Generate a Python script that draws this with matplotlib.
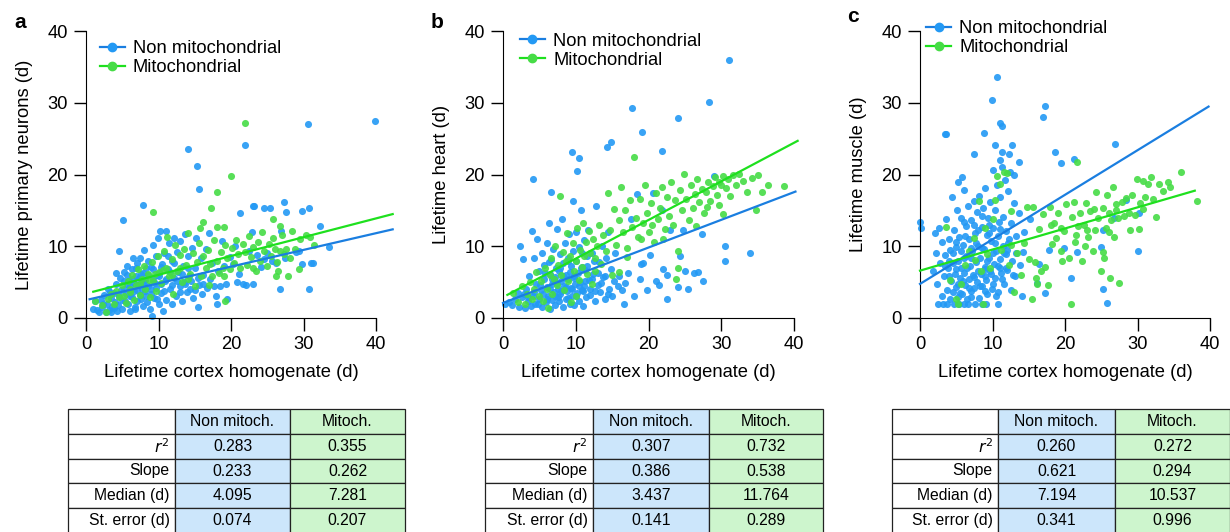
import numpy as np
import matplotlib
matplotlib.use("Agg")
from matplotlib import pyplot as plt
from matplotlib.lines import Line2D

plt.rcParams['font.family'] = ['Liberation Sans', 'DejaVu Sans']

# ---- scatter data (x = lifetime cortex homogenate, y = lifetime in tissue)
a_non = np.array([
    (1.0, 1.2), (1.5, 1.1), (1.8, 0.8), (2.0, 2.5), (2.2, 1.5), (2.5, 3.2), (2.7, 0.9), (2.9, 2.0), (1.2, 2.4),
    (3.0, 4.1), (3.2, 1.1), (3.4, 2.8), (3.6, 1.6), (3.8, 3.5), (4.0, 2.2), (4.1, 4.8), (4.3, 1.0), (4.5, 3.0),
    (4.6, 9.4), (4.7, 5.6), (4.9, 2.5), (5.0, 1.3), (5.2, 4.0), (5.3, 6.4), (3.5, 0.9), (4.4, 1.8), (5.5, 3.3),
    (5.6, 7.3), (5.8, 2.0), (5.9, 5.1), (6.0, 1.0), (6.1, 4.4), (6.3, 6.8), (6.4, 2.9), (6.5, 8.4), (6.6, 3.7),
    (6.8, 1.6), (6.9, 5.9), (7.0, 7.6), (7.1, 2.4), (7.2, 4.6), (5.7, 6.0), (6.2, 3.9), (6.7, 1.2), (7.4, 8.3),
    (7.5, 3.2), (7.6, 6.2), (7.8, 1.7), (7.9, 5.0), (8.0, 9.5), (8.1, 3.8), (8.3, 6.9), (8.4, 2.2), (8.5, 8.0),
    (8.6, 4.5), (8.8, 1.3), (8.9, 7.1), (9.0, 3.4), (9.1, 0.3), (9.2, 5.6), (9.3, 10.2), (9.4, 2.8), (7.7, 4.1),
    (8.2, 5.3), (9.6, 8.6), (9.7, 4.2), (9.9, 11.1), (10.0, 1.9), (10.1, 6.3), (10.2, 12.1), (10.4, 3.5),
    (10.5, 7.5), (10.6, 1.0), (10.8, 9.0), (10.9, 5.2), (11.0, 12.1), (11.1, 2.5), (11.3, 6.8), (11.4, 10.5),
    (9.8, 6.0), (10.3, 4.8), (11.6, 4.0), (11.8, 8.0), (11.9, 2.0), (12.1, 11.2), (12.2, 5.6), (12.4, 3.0),
    (12.5, 9.2), (12.7, 6.4), (12.9, 4.4), (13.0, 10.8), (13.2, 2.4), (13.4, 7.3), (13.5, 5.0), (13.7, 11.7),
    (13.9, 3.6), (14.0, 8.6), (14.2, 5.8), (14.4, 4.0), (14.6, 9.8), (14.8, 2.8), (15.0, 6.9), (15.2, 11.2),
    (15.4, 1.5), (15.6, 4.6), (15.8, 8.3), (16.0, 3.3), (16.2, 6.0), (16.5, 9.6), (16.7, 4.2), (16.9, 11.9),
    (17.1, 5.4), (17.4, 7.6), (17.7, 4.5), (18.0, 2.0), (18.2, 6.5), (18.5, 4.4), (18.8, 10.7), (19.1, 7.2),
    (19.3, 4.7), (19.5, 2.6), (19.8, 8.5), (17.9, 3.0), (20.3, 7.5), (20.8, 5.0), (21.1, 6.2), (21.6, 4.8),
    (22.1, 4.6), (22.5, 9.3), (23.1, 4.7), (23.6, 8.8), (24.1, 7.1), (24.6, 8.2), (22.9, 12.0), (20.6, 10.1),
    (25.6, 7.9), (26.2, 7.6), (26.9, 12.1), (27.4, 8.3), (28.9, 9.2), (24.9, 9.0),
    (2.4, 1.9), (3.3, 3.6), (3.9, 1.4), (4.8, 3.9), (5.4, 2.3), (5.6, 4.7), (6.0, 3.1), (6.3, 5.4), (6.6, 4.9),
    (7.0, 3.9), (7.3, 5.6), (7.6, 2.7), (8.0, 4.6), (8.3, 3.1), (8.6, 6.0), (8.9, 4.0), (9.2, 6.8), (9.5, 4.9),
    (9.8, 2.6), (10.1, 5.8), (10.4, 7.1), (10.7, 3.8), (11.0, 5.5), (11.3, 8.7), (11.6, 6.4), (11.9, 4.6),
    (12.2, 7.6), (12.6, 5.2), (13.0, 3.6), (13.3, 6.1), (13.7, 4.7), (14.1, 7.0), (14.5, 5.1), (15.0, 3.9),
    (15.5, 5.6), (16.2, 4.8), (7.9, 6.3), (6.9, 7.0), (5.2, 5.2), (4.2, 6.3),
    (14.0, 23.6), (15.3, 21.2), (15.6, 18.0), (21.9, 24.1), (30.6, 27.1), (39.9, 27.5), (5.1, 13.6),
    (7.8, 15.8), (21.2, 14.7), (23.2, 15.6), (24.5, 15.4), (25.4, 15.3), (27.3, 16.1), (27.6, 14.8),
    (29.8, 14.9), (30.8, 15.3), (32.3, 12.8), (33.5, 9.9), (31.3, 7.7), (31.0, 7.7), (30.7, 4.0), (26.8, 4.1),
    (29.4, 9.3), (29.8, 7.5), (23.1, 15.6),
])
a_mito = np.array([
    (1.3, 2.3), (2.2, 1.8), (2.8, 0.9), (3.0, 2.6), (3.5, 3.4), (3.9, 2.0), (4.2, 3.8), (4.5, 2.9), (4.9, 4.6),
    (5.3, 3.1), (5.5, 2.1), (5.8, 5.1), (6.1, 3.6), (6.4, 6.0), (6.6, 2.5), (6.9, 4.6), (7.2, 6.8), (7.4, 3.2),
    (7.7, 5.5), (8.0, 7.3), (8.2, 4.1), (8.5, 6.2), (8.8, 2.9), (9.1, 7.8), (9.3, 5.2), (9.6, 3.7), (9.9, 8.6),
    (10.1, 6.4), (10.4, 4.9), (10.7, 9.3), (11.0, 7.0), (11.2, 11.3), (11.5, 5.8), (11.8, 8.2), (12.0, 3.4),
    (12.3, 10.2), (12.6, 6.6), (12.9, 8.8), (13.2, 5.0), (13.5, 9.6), (13.8, 7.4), (14.1, 11.8), (14.4, 6.1),
    (14.7, 9.0), (15.0, 4.4), (15.3, 7.8), (15.6, 10.4), (15.9, 5.9), (16.2, 8.6), (16.5, 6.9), (16.8, 9.5),
    (17.1, 7.5), (17.4, 5.8), (17.7, 10.9), (18.0, 8.0), (18.3, 6.3), (18.6, 9.2), (18.9, 7.0), (19.2, 10.2),
    (19.5, 8.3), (19.8, 6.8), (20.1, 9.8), (20.4, 7.6), (20.7, 10.9), (21.0, 8.9), (21.3, 6.9), (21.6, 10.3),
    (21.9, 9.2), (22.2, 7.4), (22.5, 11.4), (22.8, 8.5), (23.1, 9.9), (23.4, 6.6), (23.7, 10.6), (24.0, 8.0),
    (24.3, 12.0), (24.6, 9.4), (24.9, 7.2), (25.2, 10.3), (25.5, 8.7), (25.8, 11.1), (26.1, 9.6), (26.4, 7.8),
    (26.7, 9.3), (27.0, 11.6), (27.3, 8.9), (27.6, 9.6), (28.2, 8.4), (28.8, 9.6), (29.5, 11.0), (26.5, 6.6),
    (23.0, 6.9), (19.0, 5.9), (17.0, 4.6), (7.5, 4.7), (6.0, 4.0), (8.7, 5.3), (10.6, 6.7), (9.5, 6.1),
    (11.9, 6.0), (13.0, 7.0), (14.0, 5.5),
    (21.9, 27.2), (20.0, 19.8), (18.0, 17.5), (17.3, 15.4), (9.2, 14.8), (25.8, 13.8), (26.7, 12.8),
    (16.1, 13.4), (15.7, 12.6), (18.1, 12.7), (19.0, 12.7), (28.4, 12.1), (30.3, 11.6), (30.9, 11.3),
    (31.5, 10.2), (29.4, 6.8), (27.9, 5.9), (26.2, 5.8), (19.2, 2.3),
])
b_non = np.array([
    (0.3, 2.0), (0.8, 2.2), (1.2, 1.8), (1.6, 2.6), (2.0, 3.5), (2.2, 1.6), (2.4, 10.0), (2.6, 2.9), (2.8, 8.2),
    (3.0, 1.4), (3.1, 4.0), (3.4, 2.3), (3.6, 5.9), (3.8, 1.7), (4.0, 12.1), (4.1, 3.1), (4.2, 8.3), (4.4, 2.0),
    (4.5, 4.8), (4.7, 11.0), (4.9, 6.6), (5.0, 2.6), (5.2, 3.9), (5.3, 9.0), (5.4, 1.5), (5.6, 5.4), (5.7, 7.4),
    (5.9, 2.2), (6.0, 4.3), (6.1, 10.4), (6.2, 3.0), (6.3, 13.2), (6.4, 6.2), (6.5, 1.3), (6.6, 8.1), (6.7, 4.7),
    (6.8, 2.5), (6.9, 9.6), (7.0, 3.6), (7.1, 5.7), (7.2, 1.8), (7.3, 7.0), (7.4, 12.4), (7.5, 4.1), (7.6, 2.9),
    (7.7, 6.5), (7.8, 8.9), (7.9, 3.3), (8.0, 5.1), (8.1, 13.8), (8.2, 1.6), (8.3, 7.6), (8.4, 4.5), (8.5, 10.5),
    (8.6, 2.6), (8.7, 6.0), (8.8, 3.8), (8.9, 8.4), (9.0, 5.4), (9.1, 11.7), (9.2, 2.0), (9.3, 4.2), (9.4, 7.2),
    (9.5, 3.0), (9.6, 9.4), (9.7, 5.9), (9.8, 1.8), (9.9, 4.8), (10.0, 12.0), (10.1, 7.9), (10.2, 3.5),
    (10.3, 6.3), (10.4, 2.4), (10.5, 9.9), (10.6, 5.0), (10.7, 15.1), (10.8, 3.9), (10.9, 7.1), (11.0, 1.7),
    (11.1, 10.9), (11.2, 4.4), (11.3, 6.7), (11.4, 2.9), (11.5, 8.6), (11.7, 12.2), (11.8, 5.3), (12.0, 3.2),
    (12.2, 9.1), (12.4, 6.1), (12.6, 2.3), (12.8, 15.6), (13.0, 4.6), (13.2, 7.8), (13.4, 3.6), (13.6, 10.1),
    (13.8, 5.7), (14.0, 2.7), (14.2, 8.4), (14.4, 12.0), (14.6, 4.0), (14.8, 6.8), (15.0, 3.0), (15.4, 9.0),
    (15.8, 4.4), (16.0, 5.8), (16.4, 3.9), (16.8, 4.9), (17.2, 6.3), (17.6, 13.8), (18.0, 3.0), (18.4, 17.3),
    (18.8, 5.5), (19.2, 7.6), (19.8, 3.9), (20.2, 8.8), (20.6, 17.4), (21.0, 5.2), (21.5, 4.6), (22.0, 6.8),
    (22.5, 2.6), (23.0, 12.2), (24.0, 4.3), (24.3, 8.6), (24.7, 12.3), (25.0, 6.6), (25.4, 4.1), (26.2, 6.3),
    (26.8, 6.4), (27.3, 11.7), (27.5, 5.1), (30.5, 10.0), (30.5, 7.9), (34.0, 9.1), (22.5, 6.0), (16.6, 2.0),
    (19.0, 7.5), (21.8, 15.0), (29.0, 19.8),
    (2.9, 3.3), (3.5, 2.9), (4.3, 3.6), (4.8, 1.9), (5.1, 4.6), (5.5, 3.3), (5.8, 6.3), (6.1, 2.6), (6.4, 4.0),
    (6.8, 5.4), (7.1, 3.1), (7.4, 4.9), (7.7, 2.3), (8.0, 3.7), (8.3, 5.9), (8.6, 4.3), (8.9, 2.8), (9.2, 6.4),
    (9.5, 4.1), (9.8, 5.6), (10.1, 3.0), (10.4, 4.5), (10.7, 6.9), (11.0, 3.8), (11.3, 5.2), (11.6, 7.3),
    (11.9, 4.1), (12.3, 5.5), (12.7, 3.7), (13.1, 6.3), (13.5, 4.9), (14.0, 5.9), (14.5, 3.4), (15.2, 5.2),
    (9.0, 7.9), (7.9, 6.9), (6.3, 7.8), (10.9, 9.1), (12.5, 8.0),
    (31.1, 35.9), (28.3, 30.1), (17.7, 29.2), (24.0, 27.9), (19.1, 25.9), (14.9, 24.5), (14.3, 23.9),
    (9.5, 23.1), (10.4, 22.3), (10.2, 20.5), (21.8, 23.3), (4.1, 19.4), (9.6, 16.3), (6.6, 17.6),
])
b_mito = np.array([
    (1.4, 3.5), (2.1, 2.2), (2.6, 4.4), (3.0, 2.0), (3.3, 3.4), (3.7, 5.0), (4.0, 2.6), (4.3, 4.1), (4.6, 6.4),
    (4.9, 3.0), (5.2, 5.2), (5.5, 2.3), (5.8, 7.0), (6.0, 4.0), (6.2, 1.4), (6.4, 6.0), (6.6, 8.3), (6.8, 3.4),
    (7.0, 5.5), (7.2, 10.1), (7.4, 4.6), (7.6, 7.4), (7.8, 17.0), (8.0, 6.0), (8.2, 9.2), (8.4, 3.9), (8.6, 7.9),
    (8.8, 11.8), (9.0, 5.1), (9.2, 8.7), (9.4, 2.2), (9.6, 10.4), (9.8, 6.6), (10.0, 8.0), (10.2, 12.6),
    (10.4, 5.3), (10.6, 9.5), (10.8, 7.1), (11.0, 13.2), (11.2, 8.6), (11.4, 10.6), (11.6, 6.2), (11.8, 12.1),
    (12.0, 9.0), (12.2, 4.8), (12.4, 11.0), (12.6, 8.3), (12.9, 10.1), (13.2, 12.9), (13.5, 7.5), (13.8, 11.5),
    (14.1, 9.4), (14.4, 17.4), (14.7, 12.3), (15.0, 6.0), (15.3, 15.2), (15.6, 10.2), (15.9, 13.7),
    (16.2, 18.3), (16.5, 12.0), (16.8, 15.0), (17.1, 9.8), (17.4, 16.4), (17.7, 12.7), (18.0, 22.5),
    (18.3, 14.0), (18.6, 11.3), (18.9, 16.6), (19.2, 13.2), (19.5, 18.6), (19.8, 14.6), (20.1, 12.0),
    (20.4, 16.0), (20.7, 10.6), (21.0, 17.4), (21.3, 13.8), (21.6, 15.3), (21.9, 18.3), (22.2, 12.4),
    (22.5, 16.8), (22.8, 14.2), (23.1, 19.0), (23.4, 13.0), (23.7, 16.4), (24.0, 9.3), (24.0, 7.0),
    (24.3, 17.8), (24.6, 15.0), (24.9, 20.1), (25.2, 16.6), (25.5, 13.6), (25.8, 18.6), (26.1, 15.4),
    (26.4, 17.3), (26.7, 19.4), (27.0, 16.2), (27.3, 18.0), (27.6, 14.6), (27.9, 17.6), (28.2, 19.0),
    (28.5, 16.3), (28.8, 18.4), (29.1, 19.6), (29.4, 17.2), (29.7, 19.0), (30.0, 18.5), (30.3, 19.8),
    (30.6, 18.1), (30.9, 19.4), (31.2, 17.0), (31.6, 19.9), (32.0, 18.6), (32.5, 20.1), (33.0, 19.1),
    (33.6, 17.6), (34.2, 19.5), (34.8, 15.0), (35.0, 20.0), (35.6, 17.6), (36.4, 18.6), (38.6, 18.4),
    (30.2, 14.5), (29.7, 15.8), (23.8, 5.5), (16.0, 6.4), (10.0, 3.0), (12.7, 6.5), (20.5, 13.0), (19.0, 11.0),
    (26.5, 12.8), (28.0, 15.5), (22.0, 11.0), (17.0, 8.5),
])
c_non = np.array([
    (2.5, 2.0), (3.2, 2.0), (3.7, 2.0), (4.7, 2.0), (5.4, 2.0), (6.0, 2.0), (6.6, 2.0), (7.6, 2.0), (8.5, 2.0),
    (9.1, 2.0), (10.7, 2.0),
    (1.8, 6.5), (2.0, 11.8), (2.2, 9.0), (2.4, 4.8), (2.6, 12.6), (2.8, 7.6), (3.0, 3.1), (3.1, 10.6),
    (3.3, 5.8), (3.5, 8.8), (3.6, 13.8), (3.7, 3.9), (3.9, 6.9), (4.0, 11.0), (4.1, 2.6), (4.2, 9.5), (4.3, 5.1),
    (4.4, 16.8), (4.5, 7.6), (4.6, 3.6), (4.7, 12.2), (4.8, 6.2), (4.9, 9.9), (5.0, 4.3), (5.1, 15.0),
    (5.2, 8.0), (5.3, 2.9), (5.4, 11.3), (5.5, 5.6), (5.6, 14.0), (5.7, 7.0), (5.8, 3.3), (5.9, 10.2),
    (6.0, 6.3), (6.1, 17.8), (6.2, 4.6), (6.3, 12.8), (6.4, 8.6), (6.5, 2.6), (6.6, 15.6), (6.7, 5.4),
    (6.8, 11.0), (6.9, 7.3), (7.0, 3.8), (7.1, 13.6), (7.2, 9.4), (7.3, 6.0), (7.4, 16.3), (7.5, 4.2),
    (7.6, 11.9), (7.7, 7.8), (7.8, 14.8), (7.9, 5.0), (8.0, 10.1), (8.1, 2.8), (8.2, 17.0), (8.3, 8.3),
    (8.4, 6.1), (8.5, 12.7), (8.6, 4.4), (8.7, 15.3), (8.8, 9.6), (8.9, 7.1), (9.0, 18.1), (9.1, 5.3),
    (9.2, 11.5), (9.3, 3.4), (9.4, 13.9), (9.5, 8.4), (9.6, 16.2), (9.7, 6.6), (9.8, 10.7), (9.9, 4.0),
    (10.0, 20.6), (10.1, 12.5), (10.2, 7.5), (10.3, 15.1), (10.4, 5.6), (10.5, 9.4), (10.6, 18.6),
    (10.7, 11.4), (10.8, 3.6), (10.9, 13.4), (11.0, 8.2), (11.1, 16.9), (11.2, 6.3), (11.3, 21.0),
    (11.4, 10.0), (11.5, 14.1), (11.6, 4.7), (11.7, 19.2), (11.8, 8.9), (11.9, 12.1), (12.0, 6.7),
    (12.1, 17.7), (12.2, 10.5), (12.4, 20.4), (12.5, 3.9), (12.6, 13.2), (12.7, 8.0), (12.9, 16.0),
    (13.1, 5.8), (13.3, 11.4), (13.6, 14.6), (13.8, 7.4), (14.0, 3.1), (14.2, 9.2), (14.4, 12.0), (13.0, 20.0),
    (11.0, 22.0), (15.2, 13.8), (16.4, 7.5), (16.2, 4.9), (17.2, 3.5), (17.8, 9.5), (19.9, 9.7), (21.7, 9.2),
    (25.0, 9.9), (25.2, 12.3), (20.8, 5.6), (25.2, 4.0), (25.8, 2.1), (30.0, 9.4), (28.4, 16.4), (26.7, 13.9),
    (30.2, 14.7), (7.0, 9.8), (6.0, 8.3), (8.0, 12.3), (9.0, 6.8), (5.0, 10.6), (4.0, 8.0), (10.0, 9.0),
    (11.0, 7.0), (12.0, 9.5),
    (3.4, 7.2), (4.0, 5.9), (4.6, 9.0), (5.0, 6.8), (5.3, 4.8), (5.6, 9.3), (5.9, 5.2), (6.2, 11.4), (6.5, 7.0),
    (6.8, 4.2), (7.1, 8.4), (7.4, 5.7), (7.7, 10.5), (8.0, 6.6), (8.3, 4.5), (8.6, 9.7), (8.9, 5.8), (9.2, 8.0),
    (9.5, 11.8), (9.8, 6.2), (10.1, 4.7), (10.4, 10.4), (10.7, 7.2), (11.0, 12.4), (11.3, 5.4), (11.6, 9.1),
    (11.9, 7.0), (12.3, 11.0), (12.8, 6.0), (13.2, 9.0), (6.0, 13.4), (7.5, 12.9), (8.5, 14.2), (9.5, 13.0),
    (5.5, 3.5), (7.0, 2.9), (9.0, 3.8), (10.5, 3.0),
    (10.6, 33.6), (9.9, 30.4), (17.3, 29.6), (16.9, 28.0), (11.1, 27.2), (11.3, 26.7), (3.6, 25.7),
    (3.5, 25.6), (8.8, 25.8), (26.9, 24.3), (12.7, 24.1), (10.3, 24.1), (7.4, 22.9), (18.6, 23.1),
    (21.3, 22.2), (19.4, 21.6), (13.7, 21.8), (11.3, 23.1), (12.3, 22.8), (5.8, 19.7), (5.2, 19.0),
    (0.0, 13.4), (0.2, 12.6),
])
c_mito = np.array([
    (3.6, 12.7), (4.2, 5.3), (4.9, 2.6), (5.3, 2.0), (5.6, 4.8), (6.2, 7.4), (6.8, 9.4), (7.4, 11.2),
    (7.6, 8.1), (8.1, 16.3), (8.4, 6.6), (8.7, 2.0), (9.0, 12.5), (9.3, 8.9), (9.7, 7.0), (10.0, 13.8),
    (10.3, 16.4), (10.6, 19.8), (11.0, 18.7), (11.2, 9.5), (11.6, 20.3), (12.0, 20.2), (12.3, 7.4),
    (12.6, 10.2), (12.9, 3.6), (13.4, 9.0), (13.9, 6.0), (14.3, 10.4), (14.7, 15.5), (15.0, 8.2), (15.4, 2.6),
    (15.6, 15.5), (15.9, 7.8), (16.1, 4.7), (16.4, 12.4), (16.7, 6.6), (17.0, 14.5), (17.3, 7.1), (17.6, 4.6),
    (17.9, 15.5), (18.2, 10.3), (18.5, 13.2), (18.8, 11.2), (19.1, 14.6), (19.4, 9.3), (19.6, 8.0),
    (19.9, 12.1), (20.2, 15.9), (20.5, 8.3), (20.8, 1.9), (21.0, 14.1), (21.2, 16.2), (21.4, 10.6),
    (21.6, 21.8), (21.8, 12.8), (22.0, 14.6), (22.3, 8.0), (22.6, 13.0), (22.9, 16.0), (23.2, 11.3),
    (23.5, 14.9), (23.8, 9.4), (24.1, 12.3), (24.3, 17.6), (24.6, 14.0), (24.9, 6.6), (25.2, 15.3),
    (25.4, 8.3), (25.6, 12.6), (25.8, 17.2), (26.0, 14.7), (26.2, 5.6), (26.4, 13.6), (26.6, 18.2),
    (26.8, 11.3), (27.0, 15.9), (27.3, 13.9), (27.5, 4.9), (27.8, 16.1), (28.1, 14.2), (28.4, 16.7),
    (28.8, 14.6), (29.0, 12.3), (29.3, 17.1), (29.6, 14.4), (29.9, 19.4), (30.2, 12.4), (30.4, 16.0),
    (30.7, 19.1), (31.0, 16.8), (31.4, 18.7), (31.8, 19.7), (32.2, 16.6), (32.6, 14.1), (33.0, 18.7),
    (33.5, 17.7), (34.2, 19.0), (34.5, 18.3), (36.0, 20.3), (38.2, 16.3), (12.6, 14.9), (16.0, 5.6),
    (19.5, 12.5), (23.0, 12.2), (27.0, 15.0), (18.0, 13.0), (24.0, 15.2), (22.8, 10.0), (26.0, 12.0),
    (30.8, 15.2), (21.5, 11.5), (25.3, 9.2),
])

# regression lines: slope from the tables, intercept and x-extent
fit_intercept = {'a': (2.5, 3.4), 'b': (2.1, 2.9), 'c': (4.75, 6.6)}
fit_xrange = {'a': ((0.5, 42.3), (1.0, 42.3)), 'b': ((0.0, 40.2), (0.6, 40.5)), 'c': ((0.0, 39.8), (0.0, 37.9))}

# table values
row_labels = ['$r^2$', 'Slope', 'Median (d)', 'St. error (d)']
col_labels = ['Non mitoch.', 'Mitoch.']
tab_a = [['0.283', '0.355'], ['0.233', '0.262'], ['4.095', '7.281'], ['0.074', '0.207']]
tab_b = [['0.307', '0.732'], ['0.386', '0.538'], ['3.437', '11.764'], ['0.141', '0.289']]
tab_c = [['0.260', '0.272'], ['0.621', '0.294'], ['7.194', '10.537'], ['0.341', '0.996']]

ylabels = {'a': 'Lifetime primary neurons (d)', 'b': 'Lifetime heart (d)', 'c': 'Lifetime muscle (d)'}

BLUE_PT = '#2399f4'
GREEN_PT = '#46dc46'
BLUE_LN = '#1a7ee0'
GREEN_LN = '#1ee01e'
FS = 13.2

W, H = 1230, 532
fig = plt.figure(figsize=(W / 100, H / 100), dpi=100)


def px_axes(x0, x40, y0=318, y40=31, xmax=42.5, ymax=41):
    ux = (x40 - x0) / 40.0
    uy = (y0 - y40) / 40.0
    left = x0 / W
    bottom = (H - y0) / H
    return fig.add_axes([left, bottom, xmax * ux / W, ymax * uy / H])


def scatter_panel(ax, key, non, mito, slopes, leg_xy):
    ax.scatter(non[:, 0], non[:, 1], s=26, color=BLUE_PT, alpha=0.9, lw=0, clip_on=False, zorder=2)
    ax.scatter(mito[:, 0], mito[:, 1], s=26, color=GREEN_PT, alpha=0.9, lw=0, clip_on=False, zorder=3)
    for i, col in enumerate([BLUE_LN, GREEN_LN]):
        xs = np.array(fit_xrange[key][i])
        ax.plot(xs, fit_intercept[key][i] + slopes[i] * xs, color=col, lw=1.6, zorder=4, clip_on=False)

    ax.set_xlim(0, 42.5)
    ax.set_ylim(0, 41)
    for s in ['top', 'right']:
        ax.spines[s].set_visible(False)
    ax.spines['bottom'].set_bounds(0, 40)
    ax.spines['left'].set_bounds(0, 40)
    ax.set_xticks([0, 10, 20, 30, 40])
    ax.set_yticks([0, 10, 20, 30, 40])
    ax.tick_params(length=9, width=1, labelsize=FS, pad=4)
    ax.set_xlabel('Lifetime cortex homogenate (d)', fontsize=FS)
    ax.set_ylabel(ylabels[key], fontsize=FS)
    ax.yaxis.set_label_coords(-0.172, 20 / 41)
    ax.xaxis.set_label_coords(20 / 42.5, -0.155)

    handles = [Line2D([], [], color=BLUE_LN, marker='o', ms=6, mfc=BLUE_PT, mec=BLUE_PT, lw=1.6),
               Line2D([], [], color=GREEN_LN, marker='o', ms=6, mfc=GREEN_PT, mec=GREEN_PT, lw=1.6)]
    ax.legend(handles, ['Non mitochondrial', 'Mitochondrial'], loc='upper left', bbox_to_anchor=leg_xy,
              frameon=False, fontsize=FS, handlelength=1.35, handletextpad=0.45, labelspacing=0.12,
              borderpad=0, borderaxespad=0)


def draw_table(x_px, widths_px, values):
    y_top = 409
    row_h = 24.8
    total_w = sum(widths_px)
    tax = fig.add_axes([x_px / W, (H - y_top - 5 * row_h) / H, total_w / W, 5 * row_h / H])
    tax.axis('off')
    cells = [[''] + col_labels] + [[row_labels[i]] + values[i] for i in range(4)]
    fills = [['white', '#cce6fb', '#cdf5cd']] * 5
    tbl = tax.table(cellText=cells, cellColours=fills, cellLoc='center', bbox=[0, 0, 1, 1],
                    colWidths=[w / total_w for w in widths_px])
    tbl.auto_set_font_size(False)
    for (r, c), cell in tbl.get_celld().items():
        cell.set_edgecolor('#222222')
        cell.set_linewidth(0.9)
        cell.get_text().set_fontsize(11.3)
        if c == 0:
            cell.get_text().set_ha('right')
            cell.PAD = 0.05
    return tbl


slopes_a = [float(tab_a[1][0]), float(tab_a[1][1])]
slopes_b = [float(tab_b[1][0]), float(tab_b[1][1])]
slopes_c = [float(tab_c[1][0]), float(tab_c[1][1])]

ax_a = px_axes(86, 376)
scatter_panel(ax_a, 'a', a_non, a_mito, slopes_a, (0.045, 0.945))
ax_b = px_axes(503, 794)
scatter_panel(ax_b, 'b', b_non, b_mito, slopes_b, (0.055, 0.97))
ax_c = px_axes(920, 1210)
scatter_panel(ax_c, 'c', c_non, c_mito, slopes_c, (0.02, 1.012))

fig.text(20 / W, 1 - 22 / H, 'a', fontsize=15, fontweight='bold', ha='center', va='center')
fig.text(437 / W, 1 - 22 / H, 'b', fontsize=15, fontweight='bold', ha='center', va='center')
fig.text(853 / W, 1 - 17 / H, 'c', fontsize=15, fontweight='bold', ha='center', va='center')

draw_table(68, [107, 115, 115], tab_a)
draw_table(485, [108, 116, 114], tab_b)
draw_table(892, [106, 117, 115], tab_c)

fig.savefig('out.png', dpi=100)
